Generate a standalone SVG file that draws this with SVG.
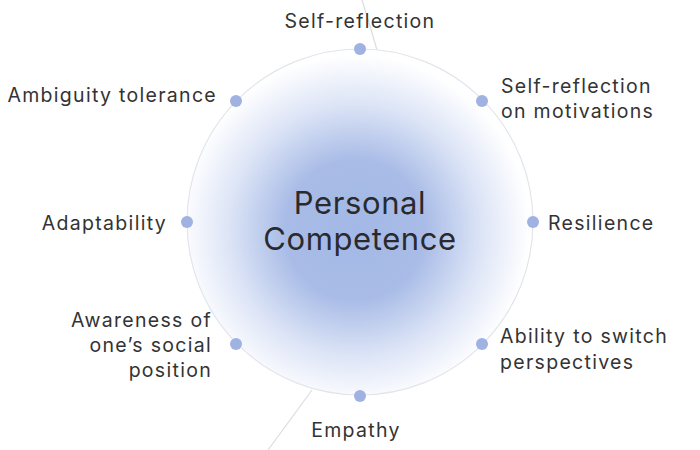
<svg xmlns="http://www.w3.org/2000/svg" width="700" height="450" viewBox="0 0 700 450">
<style>
.lbl{font-family:"Inter","Open Sans","Liberation Sans",sans-serif;font-size:19.5px;letter-spacing:1.3px;fill:#333333}
.ttl{font-family:"Inter","Open Sans","Liberation Sans",sans-serif;font-size:31px;letter-spacing:0.6px;fill:#2a2a2e}
.dot{fill:#9fb2e2}
.ln{fill:none;stroke:#dcdde2;stroke-width:1.2}
</style>
<defs>
<radialGradient id="g" cx="355" cy="230" r="175" gradientUnits="userSpaceOnUse">
<stop offset="0" stop-color="#a3b8e6"/>
<stop offset="0.4" stop-color="#a9bce7"/>
<stop offset="0.72" stop-color="#dce4f6"/>
<stop offset="1" stop-color="#ffffff"/>
</radialGradient>
</defs>
<rect width="700" height="450" fill="#ffffff"/>
<g id="connectors">
<path class="ln" d="M362 0 Q370 25 377 50"/>
<path class="ln" d="M312 390 Q290 420 268 450"/>
</g>
<g id="center">
<circle cx="360" cy="222" r="173" fill="url(#g)" stroke="#e3e5ec" stroke-width="1.2"/>
<text class="ttl" x="360" y="214" text-anchor="middle">Personal</text>
<text class="ttl" x="360" y="250" text-anchor="middle">Competence</text>
</g>
<g id="n-self-reflection">
<circle class="dot" cx="360" cy="49" r="6"/>
<text class="lbl" x="360" y="28" text-anchor="middle">Self-reflection</text>
</g>
<g id="n-motivations">
<circle class="dot" cx="482" cy="101" r="6"/>
<text class="lbl" x="501" y="93">Self-reflection</text>
<text class="lbl" x="501" y="118">on motivations</text>
</g>
<g id="n-resilience">
<circle class="dot" cx="533" cy="222" r="6"/>
<text class="lbl" x="548" y="230">Resilience</text>
</g>
<g id="n-switch">
<circle class="dot" cx="482" cy="344" r="6"/>
<text class="lbl" x="500" y="343">Ability to switch</text>
<text class="lbl" x="500" y="369">perspectives</text>
</g>
<g id="n-empathy">
<circle class="dot" cx="360" cy="396" r="6"/>
<text class="lbl" x="356" y="437" text-anchor="middle">Empathy</text>
</g>
<g id="n-awareness">
<circle class="dot" cx="236" cy="344" r="6"/>
<text class="lbl" x="212" y="327" text-anchor="end">Awareness of</text>
<text class="lbl" x="212" y="352" text-anchor="end">one’s social</text>
<text class="lbl" x="212" y="377" text-anchor="end">position</text>
</g>
<g id="n-adaptability">
<circle class="dot" cx="187" cy="222" r="6"/>
<text class="lbl" x="167" y="230" text-anchor="end">Adaptability</text>
</g>
<g id="n-ambiguity">
<circle class="dot" cx="236" cy="101" r="6"/>
<text class="lbl" x="217" y="102" text-anchor="end">Ambiguity tolerance</text>
</g>
</svg>
